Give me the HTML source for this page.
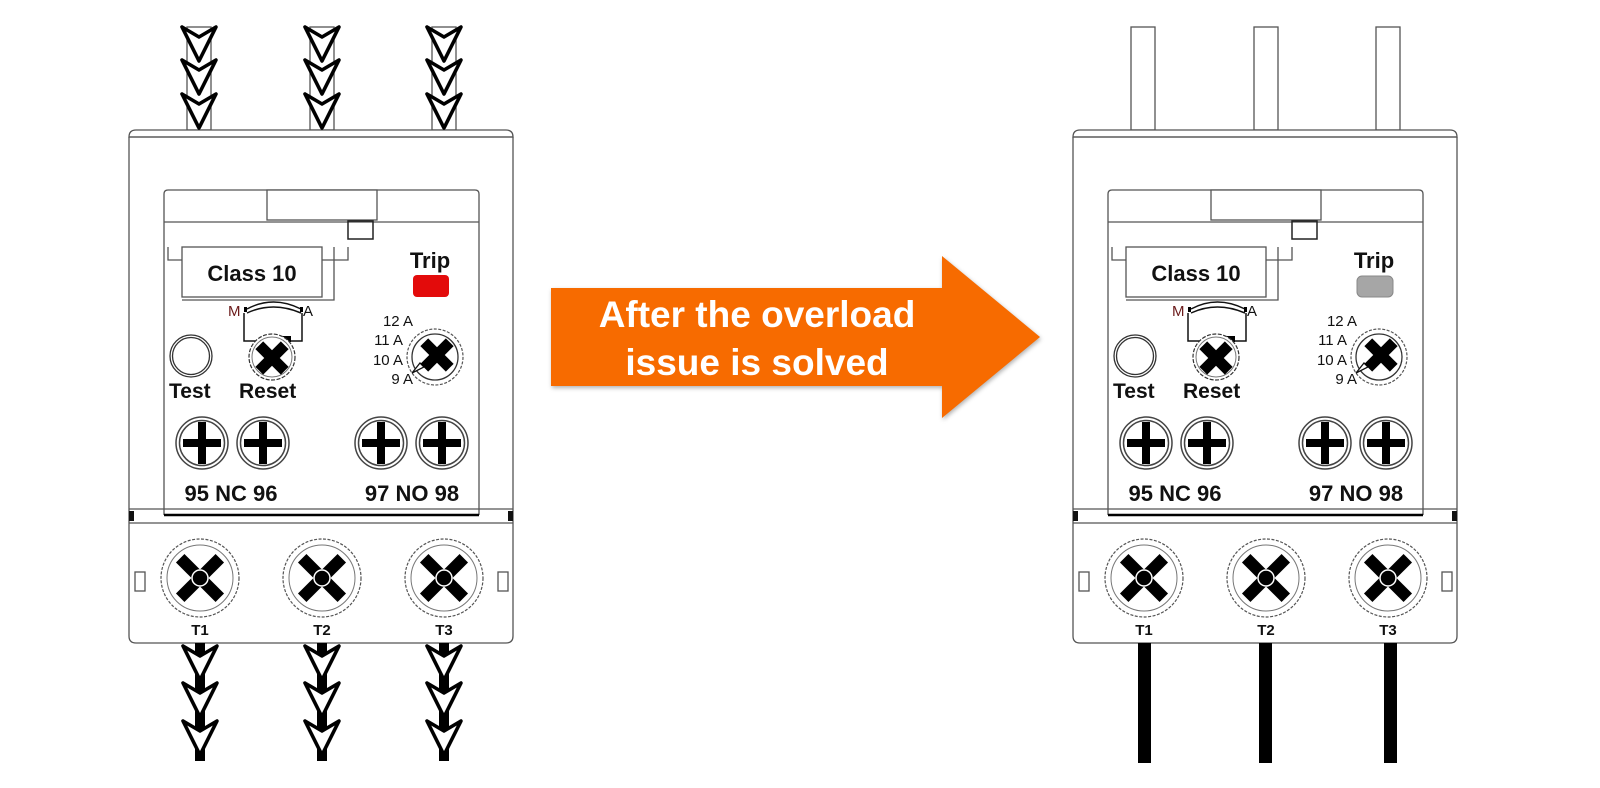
<!DOCTYPE html>
<html><head><meta charset="utf-8"><style>
html,body{margin:0;padding:0;background:#fff;width:1600px;height:788px;overflow:hidden}
svg{display:block}
text{font-family:"Liberation Sans",Arial,sans-serif}
</style></head><body>
<svg width="1600" height="788" viewBox="0 0 1600 788" xmlns="http://www.w3.org/2000/svg">
<defs>
  <g id="chev"><path d="M-17 0 L0 10 L17 0 L0 34 Z" fill="#fff" stroke="#000" stroke-width="3.6" stroke-linejoin="round"/></g>
  <g id="cs">
    <circle r="26" fill="#fff" stroke="#444" stroke-width="1.5"/>
    <circle r="22.5" fill="none" stroke="#444" stroke-width="1.5"/>
    <rect x="-19" y="-4" width="38" height="8" fill="#000"/>
    <rect x="-4" y="-21" width="8" height="42" fill="#000"/>
  </g>
  <g id="ts">
    <circle r="39" fill="#fff" stroke="#555" stroke-width="1.2" stroke-dasharray="3 1.5"/>
    <circle r="33" fill="none" stroke="#777" stroke-width="1"/>
    <g transform="rotate(45)"><rect x="-28" y="-6" width="56" height="12" fill="#000"/><rect x="-6" y="-28" width="12" height="56" fill="#000"/></g>
    <circle r="8" fill="#000" stroke="#fff" stroke-width="1.5"/>
  </g>
  <g id="xs">
    <g transform="rotate(45)"><rect x="-18" y="-5.5" width="36" height="11" fill="#000"/><rect x="-5.5" y="-18" width="11" height="36" fill="#000"/></g>
  </g>
  <g id="body" fill="none" stroke="#555" stroke-width="1.3">
    <rect x="187" y="27" width="24" height="103" fill="#fff"/>
    <rect x="310" y="27" width="24" height="103" fill="#fff"/>
    <rect x="432" y="27" width="24" height="103" fill="#fff"/>
    <path d="M129 137 Q129 130 136 130 L506 130 Q513 130 513 137 Z" fill="#fff"/>
    <line x1="129" y1="137" x2="513" y2="137"/>
    <path d="M129 137 L129 636 Q129 643 136 643 L506 643 Q513 643 513 636 L513 137"/>
    <line x1="129" y1="509" x2="513" y2="509"/>
    <line x1="129" y1="523" x2="513" y2="523"/>
    <rect x="129" y="511" width="5" height="10" fill="#111" stroke="none"/>
    <rect x="508" y="511" width="5" height="10" fill="#111" stroke="none"/>
    <path d="M164 515 L164 194 Q164 190 168 190 L475 190 Q479 190 479 194 L479 515"/>
    <line x1="164" y1="222" x2="479" y2="222"/>
    <rect x="267" y="190" width="110" height="30" fill="#fff"/>
    <rect x="348" y="221" width="25" height="18" stroke="#222" stroke-width="1.5"/>
    <line x1="164" y1="515" x2="479" y2="515" stroke="#000" stroke-width="2.5"/>
    <path d="M168 247 L168 260 L182 260 M322 260 L334 260 L334 247 M334 260 L348 260 L348 247"/>
    <rect x="182" y="247" width="140" height="50" fill="#fff"/>
    <path d="M182 300 L334 300 L334 260"/>
    <path d="M247 309 Q273 295 301 309" stroke="#111" stroke-width="1.5"/>
    <path d="M247 313 Q273 301 301 313" stroke="#111" stroke-width="1.5"/>
    <rect x="244" y="307" width="3" height="5" fill="#000" stroke="none"/>
    <rect x="300" y="307" width="3" height="5" fill="#000" stroke="none"/>
    <path d="M244 313 L244 341 L302 341 L302 313" stroke="#111" stroke-width="1.5"/>
    <rect x="283" y="336" width="8" height="6" fill="#000" stroke="none"/>
    <circle cx="191" cy="356" r="21" fill="#fff" stroke="#333" stroke-width="1.3"/>
    <circle cx="191" cy="356" r="18.5" fill="none" stroke="#333" stroke-width="1.3"/>
    <circle cx="272" cy="357" r="23" fill="#fff" stroke="#333" stroke-width="1.2" stroke-dasharray="4 1.5"/>
    <circle cx="272" cy="357" r="20" fill="none" stroke="#777" stroke-width="1"/>
    <circle cx="435" cy="357" r="28" fill="#fff" stroke="#555" stroke-width="1.2" stroke-dasharray="3 1.5"/>
    <circle cx="435" cy="357" r="23" fill="none" stroke="#333" stroke-width="1.3"/>
    <path d="M412 373 L420 363 L424 367 Z" fill="#fff" stroke="#111" stroke-width="1.3"/>
    <rect x="135" y="572" width="10" height="19" fill="#fff"/>
    <rect x="498" y="572" width="10" height="19" fill="#fff"/>
  </g>
  <g id="screws">
    <use href="#xs" x="272" y="358"/>
    <use href="#xs" x="437" y="355"/>
    <use href="#cs" x="202" y="443"/>
    <use href="#cs" x="263" y="443"/>
    <use href="#cs" x="381" y="443"/>
    <use href="#cs" x="442" y="443"/>
    <use href="#ts" x="200" y="578"/>
    <use href="#ts" x="322" y="578"/>
    <use href="#ts" x="444" y="578"/>
  </g>
</defs>

<use href="#body"/>
<use href="#screws"/>
<g>
  <use href="#chev" x="199" y="27"/><use href="#chev" x="199" y="60"/><use href="#chev" x="199" y="94"/>
  <use href="#chev" x="322" y="27"/><use href="#chev" x="322" y="60"/><use href="#chev" x="322" y="94"/>
  <use href="#chev" x="444" y="27"/><use href="#chev" x="444" y="60"/><use href="#chev" x="444" y="94"/>
</g>
<g fill="#000">
  <rect x="195" y="643" width="10" height="118"/>
  <rect x="317" y="643" width="10" height="118"/>
  <rect x="439" y="643" width="10" height="118"/>
</g>
<g>
  <use href="#chev" x="200" y="646"/><use href="#chev" x="200" y="683"/><use href="#chev" x="200" y="721"/>
  <use href="#chev" x="322" y="646"/><use href="#chev" x="322" y="683"/><use href="#chev" x="322" y="721"/>
  <use href="#chev" x="444" y="646"/><use href="#chev" x="444" y="683"/><use href="#chev" x="444" y="721"/>
</g>
<rect x="413" y="275" width="36" height="22" rx="4" fill="#e30b0b"/>
<g fill="#111">
  <text x="252" y="281" font-size="22" font-weight="bold" text-anchor="middle">Class 10</text>
  <text x="430" y="268" font-size="22" font-weight="bold" text-anchor="middle">Trip</text>
  <text x="228" y="316" font-size="15" fill="#6b1a1a">M</text>
  <text x="303" y="316" font-size="15">A</text>
  <text x="413" y="326" font-size="15" text-anchor="end">12 A</text>
  <text x="403" y="345" font-size="15" text-anchor="end">11 A</text>
  <text x="403" y="365" font-size="15" text-anchor="end">10 A</text>
  <text x="413" y="384" font-size="15" text-anchor="end">9 A</text>
  <text x="169" y="398" font-size="21" font-weight="bold">Test</text>
  <text x="239" y="398" font-size="21" font-weight="bold">Reset</text>
  <text x="231" y="501" font-size="22" font-weight="bold" text-anchor="middle">95 NC 96</text>
  <text x="412" y="501" font-size="22" font-weight="bold" text-anchor="middle">97 NO 98</text>
  <text x="200" y="635" font-size="15" font-weight="bold" text-anchor="middle">T1</text>
  <text x="322" y="635" font-size="15" font-weight="bold" text-anchor="middle">T2</text>
  <text x="444" y="635" font-size="15" font-weight="bold" text-anchor="middle">T3</text>
</g>

<path d="M551 288 L942 288 L942 256 L1040 337 L942 418 L942 386 L551 386 Z" fill="#f76b00" style="filter:drop-shadow(1px 2px 2px rgba(0,0,0,0.3))"/>
<g fill="#fff" font-size="37" font-weight="bold" text-anchor="middle">
  <text x="757" y="327">After the overload</text>
  <text x="757" y="375">issue is solved</text>
</g>

<g transform="translate(944,0)">
  <use href="#body"/>
  <use href="#screws"/>
  <g fill="#000">
    <rect x="194" y="643" width="13" height="120"/>
    <rect x="315" y="643" width="13" height="120"/>
    <rect x="440" y="643" width="13" height="120"/>
  </g>
  <rect x="413" y="276" width="36" height="21" rx="5" fill="#a6a6a6" stroke="#888" stroke-width="1"/>
  <g fill="#111">
    <text x="252" y="281" font-size="22" font-weight="bold" text-anchor="middle">Class 10</text>
    <text x="430" y="268" font-size="22" font-weight="bold" text-anchor="middle">Trip</text>
    <text x="228" y="316" font-size="15" fill="#6b1a1a">M</text>
    <text x="303" y="316" font-size="15">A</text>
    <text x="413" y="326" font-size="15" text-anchor="end">12 A</text>
    <text x="403" y="345" font-size="15" text-anchor="end">11 A</text>
    <text x="403" y="365" font-size="15" text-anchor="end">10 A</text>
    <text x="413" y="384" font-size="15" text-anchor="end">9 A</text>
    <text x="169" y="398" font-size="21" font-weight="bold">Test</text>
    <text x="239" y="398" font-size="21" font-weight="bold">Reset</text>
    <text x="231" y="501" font-size="22" font-weight="bold" text-anchor="middle">95 NC 96</text>
    <text x="412" y="501" font-size="22" font-weight="bold" text-anchor="middle">97 NO 98</text>
    <text x="200" y="635" font-size="15" font-weight="bold" text-anchor="middle">T1</text>
    <text x="322" y="635" font-size="15" font-weight="bold" text-anchor="middle">T2</text>
    <text x="444" y="635" font-size="15" font-weight="bold" text-anchor="middle">T3</text>
  </g>
</g>
</svg>
</body></html>
